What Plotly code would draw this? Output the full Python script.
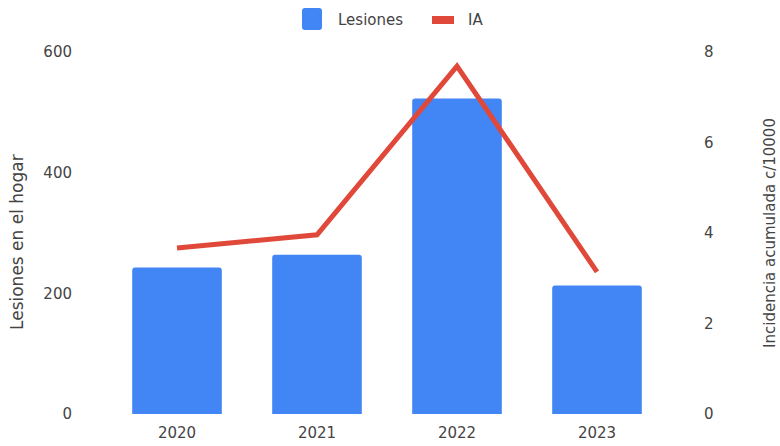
import plotly.graph_objects as go

years = ["2020", "2021", "2022", "2023"]
lesiones = [243, 264, 523, 213]
ia = [3.67, 3.96, 7.69, 3.14]

font_family = "DejaVu Sans"
text_color = "#444444"
blue = "#4285F4"
red = "#E0493A"

W, H = 780, 446
L, R, T, B = 107, 113, 52, 32
PW, PH = W - L - R, H - T - B


def px(x):
    return (x - L) / PW


def py(y):
    return (H - B - y) / PH


def rounded_rect(x0, y0, x1, y1, r):
    # path in paper coords for a rectangle given in pixels, with rounded corners
    X0, X1 = px(x0), px(x1)
    Y0, Y1 = py(y0), py(y1)
    rx, ry = r / PW, r / PH
    return (f"M {X0+rx},{Y0} L {X1-rx},{Y0} Q {X1},{Y0} {X1},{Y0-ry} "
            f"L {X1},{Y1+ry} Q {X1},{Y1} {X1-rx},{Y1} L {X0+rx},{Y1} "
            f"Q {X0},{Y1} {X0},{Y1+ry} L {X0},{Y0-ry} Q {X0},{Y0} {X0+rx},{Y0} Z")


fig = go.Figure()
fig.add_trace(go.Bar(
    x=years, y=lesiones, name="Lesiones",
    marker=dict(color=blue, line=dict(width=0)),
    yaxis="y", showlegend=False,
))
fig.add_trace(go.Scatter(
    x=years, y=ia, name="IA", mode="lines",
    line=dict(color=red, width=5),
    yaxis="y2", showlegend=False,
))

# legend drawn at the top centre
shapes = [
    dict(type="path", xref="paper", yref="paper", path=rounded_rect(302, 8, 322, 30, 3),
         fillcolor=blue, line=dict(width=0)),
    dict(type="rect", xref="paper", yref="paper", x0=px(432), x1=px(454), y0=py(16), y1=py(24),
         fillcolor=red, line=dict(width=0)),
]
annotations = [
    dict(text="Lesiones", xref="paper", yref="paper", x=px(336), y=py(20), xanchor="left",
         yanchor="middle", showarrow=False, font=dict(size=15, color=text_color)),
    dict(text="IA", xref="paper", yref="paper", x=px(466), y=py(20), xanchor="left",
         yanchor="middle", showarrow=False, font=dict(size=15, color=text_color)),
    # left axis title
    dict(text="Lesiones en el hogar", xref="paper", yref="paper", x=px(17), y=py(242),
         xanchor="center", yanchor="middle", textangle=-90, showarrow=False,
         font=dict(size=17, color=text_color)),
]

fig.update_layout(
    width=W, height=H,
    margin=dict(l=L, r=R, t=T, b=B, autoexpand=False),
    paper_bgcolor="white", plot_bgcolor="white",
    font=dict(family=font_family, size=15, color=text_color),
    bargap=0.36,
    barcornerradius=3,
    showlegend=False,
    shapes=shapes,
    annotations=annotations,
    xaxis=dict(showgrid=False, showline=False, ticks="", tickfont=dict(size=15),
               ticklabelstandoff=8),
    yaxis=dict(range=[0, 600], tickvals=[0, 200, 400, 600], showgrid=False,
               zeroline=False, showline=False, ticks="", ticklabelstandoff=34),
    yaxis2=dict(title=dict(text="Incidencia acumulada c/10000", font=dict(size=15), standoff=51),
                range=[0, 8], tickvals=[0, 2, 4, 6, 8], overlaying="y", side="right",
                showgrid=False, zeroline=False, showline=False, ticks="", ticklabelstandoff=36),
)

fig.write_html("out.html")
